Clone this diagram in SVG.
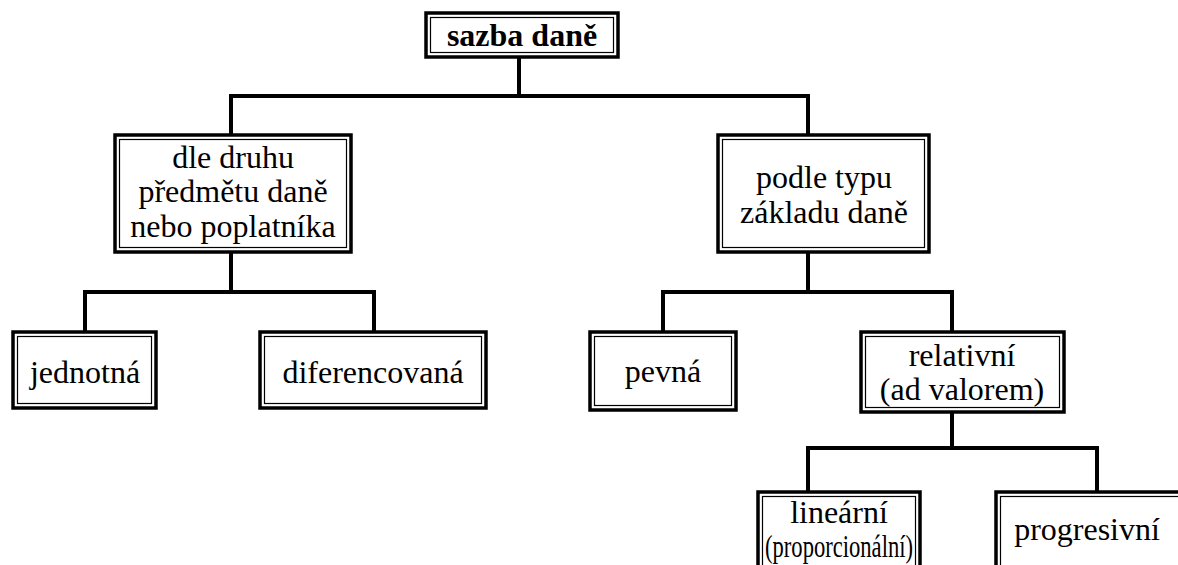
<svg xmlns="http://www.w3.org/2000/svg" width="1178" height="565" viewBox="0 0 1178 565">
<style>
.o{fill:#fff;stroke:#000;stroke-width:3.5}
.i{fill:none;stroke:#000;stroke-width:1.2}
.t{font-family:"Liberation Serif","Times New Roman",serif;font-size:32px;fill:#000;text-anchor:middle}
.b{font-weight:bold}
.c{fill:none;stroke:#000;stroke-width:4;stroke-linecap:square}
</style>
<rect width="1178" height="565" fill="#fff"/>
<g id="connectors">
<path class="c" d="M519 57V96M231 96H808M231 96V134M808 96V134"/>
<path class="c" d="M231 252V292M85 292H374M85 292V332M374 292V332"/>
<path class="c" d="M808 252V292M663 292H952M663 292V332M952 292V332"/>
<path class="c" d="M952 412V448M808 448H1097M808 448V491M1097 448V491"/>
</g>
<g id="n-sazba">
<rect class="o" x="426" y="13" width="192" height="44"/>
<rect class="i" x="430.5" y="17.5" width="183" height="35"/>
<text class="t b" x="522" y="46">sazba daně</text>
</g>
<g id="n-druh">
<rect class="o" x="115" y="135" width="236" height="117"/>
<rect class="i" x="119.5" y="139.5" width="227" height="108"/>
<text class="t" x="233" y="168">dle druhu</text>
<text class="t" x="233" y="202">předmětu daně</text>
<text class="t" x="233" y="237">nebo poplatníka</text>
</g>
<g id="n-typ">
<rect class="o" x="718" y="135" width="211" height="117"/>
<rect class="i" x="722.5" y="139.5" width="202" height="108"/>
<text class="t" x="824" y="188">podle typu</text>
<text class="t" x="824" y="223">základu daně</text>
</g>
<g id="n-jednotna">
<rect class="o" x="13" y="332" width="143" height="76"/>
<rect class="i" x="17.5" y="336.5" width="134" height="67"/>
<text class="t" x="85" y="383">jednotná</text>
</g>
<g id="n-diferencovana">
<rect class="o" x="260" y="332" width="226" height="76"/>
<rect class="i" x="264.5" y="336.5" width="217" height="67"/>
<text class="t" x="373" y="383">diferencovaná</text>
</g>
<g id="n-pevna">
<rect class="o" x="590" y="332" width="146" height="78"/>
<rect class="i" x="594.5" y="336.5" width="137" height="69"/>
<text class="t" x="663" y="382">pevná</text>
</g>
<g id="n-relativni">
<rect class="o" x="861" y="332" width="203" height="80"/>
<rect class="i" x="865.5" y="336.5" width="194" height="71"/>
<text class="t" x="962" y="366">relativní</text>
<text class="t" x="962" y="400">(ad valorem)</text>
</g>
<g id="n-linearni">
<rect class="o" x="758" y="492" width="162" height="90"/>
<rect class="i" x="762.5" y="496.5" width="153" height="81"/>
<text class="t" x="839" y="523">lineární</text>
<text class="t" x="839" y="557" textLength="148" lengthAdjust="spacingAndGlyphs">(proporcionální)</text>
</g>
<g id="n-progresivni">
<rect class="o" x="996" y="492" width="200" height="90"/>
<rect class="i" x="1000.5" y="496.5" width="191" height="81"/>
<text class="t" x="1087" y="540">progresivní</text>
</g>
</svg>
